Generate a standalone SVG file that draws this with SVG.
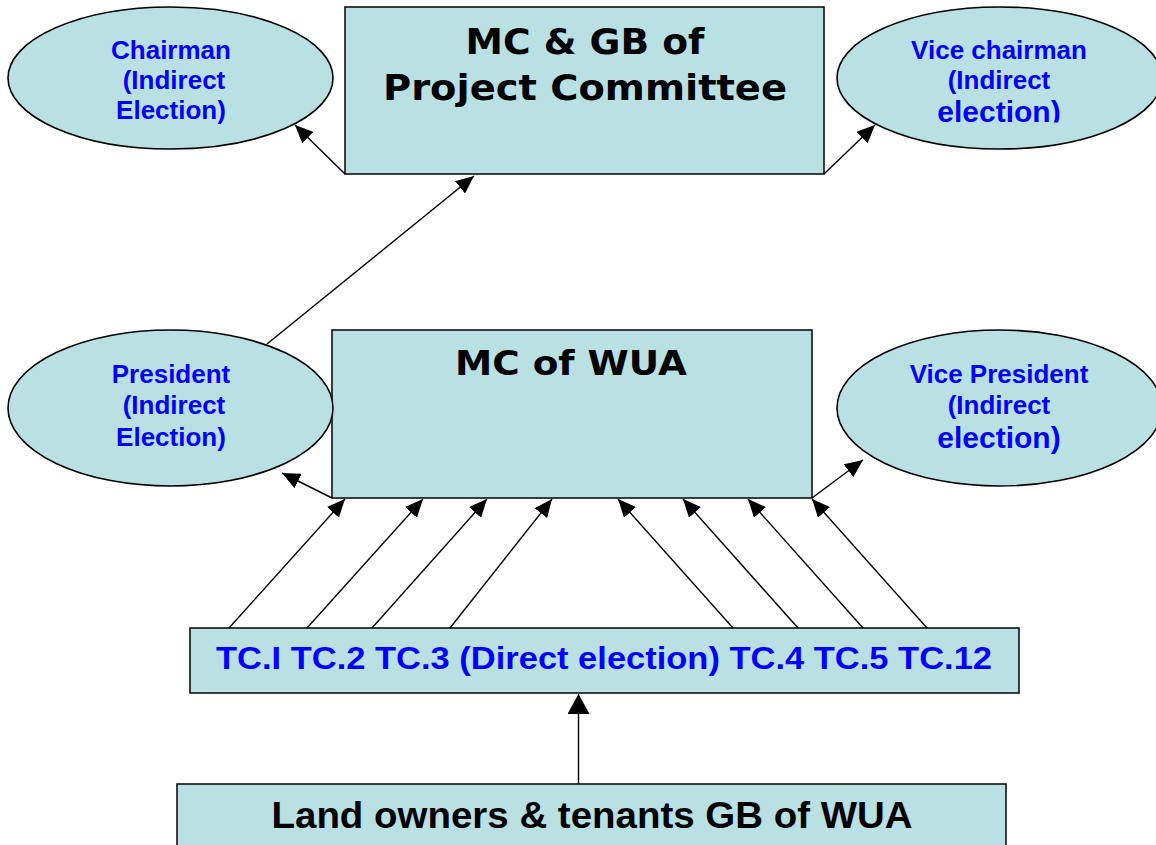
<svg xmlns="http://www.w3.org/2000/svg" width="1156" height="845" viewBox="0 0 1156 845">
<style>
.box{fill:#B9E0E3;stroke:#111;stroke-width:1.6}
.ell{fill:#B9E0E3;stroke:#000;stroke-width:1.6}
.blue{font-family:"Liberation Sans",Arial,sans-serif;font-weight:bold;fill:#0000FF;text-anchor:middle}
.big{font-family:"DejaVu Sans",Verdana,sans-serif;font-weight:bold;fill:#000;text-anchor:middle}
.arial{font-family:"Liberation Sans",Arial,sans-serif;font-weight:bold;text-anchor:middle}
.con line{stroke:#000;stroke-width:1.4;fill:none}
</style>
<defs>
<marker id="ah" markerUnits="userSpaceOnUse" markerWidth="19" markerHeight="16" refX="18" refY="8" orient="auto">
<path d="M0,0 L18,8 L0,16 z" fill="#000"/>
</marker>
<marker id="ahb" markerUnits="userSpaceOnUse" markerWidth="21" markerHeight="22" refX="20" refY="11" orient="auto">
<path d="M0,0 L20,11 L0,22 z" fill="#000"/>
</marker>
<clipPath id="clipVC"><rect x="830" y="0" width="326" height="122.5"/></clipPath>
</defs>
<rect width="1156" height="845" fill="#fff"/>

<g id="pc-box">
<rect class="box" x="345" y="7" width="479" height="167"/>
<text class="big" x="585" y="54" font-size="36" textLength="239" lengthAdjust="spacingAndGlyphs">MC &amp; GB of</text>
<text class="big" x="585" y="100" font-size="36" textLength="404" lengthAdjust="spacingAndGlyphs">Project Committee</text>
</g>

<g id="chairman">
<ellipse class="ell" cx="170.5" cy="78" rx="162.5" ry="71"/>
<text class="blue" font-size="26"><tspan x="171" y="59">Chairman</tspan><tspan x="174" y="89">(Indirect</tspan><tspan x="171" y="119">Election)</tspan></text>
</g>

<g id="vice-chairman">
<ellipse class="ell" cx="999.5" cy="78" rx="162.5" ry="71"/>
<text class="blue" font-size="26"><tspan x="999" y="59">Vice chairman</tspan><tspan x="999" y="89">(Indirect</tspan></text>
<text class="blue" font-size="30" x="999" y="122" clip-path="url(#clipVC)">election)</text>
</g>

<g id="wua-box">
<rect class="box" x="332" y="330" width="480" height="168"/>
<text class="big" x="571" y="375" font-size="33" textLength="232" lengthAdjust="spacingAndGlyphs">MC of WUA</text>
</g>

<g id="president">
<ellipse class="ell" cx="170.5" cy="408" rx="162.5" ry="78"/>
<text class="blue" font-size="26"><tspan x="171" y="383">President</tspan><tspan x="174" y="414">(Indirect</tspan><tspan x="171" y="446">Election)</tspan></text>
</g>

<g id="vice-president">
<ellipse class="ell" cx="999.5" cy="408" rx="162.5" ry="78"/>
<text class="blue" font-size="26"><tspan x="999" y="383">Vice President</tspan><tspan x="999" y="414">(Indirect</tspan></text>
<text class="blue" font-size="30" x="999" y="448">election)</text>
</g>

<g id="tc-box">
<rect class="box" x="190" y="628" width="829" height="65"/>
<text class="blue" x="604" y="669" font-size="32" textLength="776" lengthAdjust="spacingAndGlyphs">TC.I TC.2 TC.3 (Direct election) TC.4 TC.5 TC.12</text>
</g>

<g id="gb-box">
<rect class="box" x="177" y="784" width="829" height="75"/>
<text class="arial" x="592" y="828" font-size="36" textLength="641" lengthAdjust="spacingAndGlyphs">Land owners &amp; tenants GB of WUA</text>
</g>

<g id="connectors" class="con">
<line x1="345" y1="174" x2="295" y2="125" marker-end="url(#ah)"/>
<line x1="824" y1="174" x2="875" y2="125" marker-end="url(#ah)"/>
<line x1="267" y1="344" x2="474" y2="176" marker-end="url(#ah)"/>
<line x1="332" y1="498" x2="282" y2="473" marker-end="url(#ah)"/>
<line x1="812" y1="498" x2="863" y2="460" marker-end="url(#ah)"/>
<line x1="229" y1="628" x2="345" y2="499" marker-end="url(#ah)"/>
<line x1="307" y1="628" x2="423" y2="499" marker-end="url(#ah)"/>
<line x1="372" y1="628" x2="487" y2="499" marker-end="url(#ah)"/>
<line x1="450" y1="628" x2="552" y2="499" marker-end="url(#ah)"/>
<line x1="733" y1="628" x2="618" y2="499" marker-end="url(#ah)"/>
<line x1="798" y1="628" x2="683" y2="499" marker-end="url(#ah)"/>
<line x1="863" y1="628" x2="748" y2="499" marker-end="url(#ah)"/>
<line x1="927" y1="628" x2="812" y2="499" marker-end="url(#ah)"/>
<line x1="578.5" y1="784" x2="578.5" y2="694" marker-end="url(#ahb)"/>
</g>
</svg>
